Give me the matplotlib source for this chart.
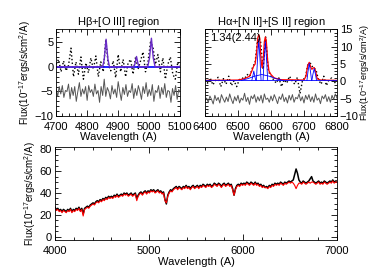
import matplotlib
matplotlib.use("Agg")
import matplotlib.pyplot as plt
from matplotlib.ticker import MultipleLocator
import numpy as np

plt.rcParams['font.family'] = ['Liberation Sans', 'DejaVu Sans']
plt.rcParams['mathtext.fontset'] = 'custom'
plt.rcParams['mathtext.rm'] = 'Liberation Sans'
plt.rcParams['mathtext.it'] = 'Liberation Sans'

# ---- H-beta + [O III] region ----
hb_data = [0.5, 1.5, -1.0, 1.2, -0.8, 0.3, 3.8, -2.0, 1.0, -1.5, 2.0, -2.5, 0.8,
           -1.2, 1.8, -0.5, 2.2, -2.0, 1.0, -1.0, 5.5, 0.5, -0.8, 1.2, -2.2, 2.5,
           -1.0, 1.5, -2.0, 0.8, 1.5, -1.5, 2.0, -0.5, 1.2, 3.0, -1.0, 1.0, 5.0,
           4.0, 0.5, 2.5, -1.0, 1.8, -2.5, 0.5, 2.0, -1.5, -2.5, 1.0, -0.5]
hb_resid = [-4.5, -6.0, -4.0, -5.5, -3.8, -6.2, -4.8, -5.0, -3.5, -6.5, -4.2, -5.8,
            -4.0, -7.0, -5.0, -3.2, -6.0, -4.5, -5.5, -4.0, -6.8, -3.8, -5.2, -4.6,
            -6.0, -3.5, -5.5, -4.8, -7.2, -4.0, -5.8, -2.5, -6.0, -4.2, -5.0, -6.5,
            -3.8, -5.5, -4.5, -6.2, -3.0, -5.0, -6.8, -4.2, -5.6, -3.6, -6.0, -4.8,
            -5.2, -3.4, -6.4, -4.4, -5.8, -3.8, -5.0, -6.6, -4.0, -5.4, -3.2, -6.0,
            -4.6, -5.8, -3.6, -7.0, -4.8, -5.2, -3.8, -6.4, -4.2, -5.6, -3.4, -6.2,
            -4.8, -5.0, -7.2, -4.4, -5.8, -3.8, -6.6, -4.6, -5.2]
hb_fit_x = [4700, 4850, 4855, 4861, 4867, 4872, 4950, 4954, 4959, 4964, 4968,
            4995, 5001, 5007, 5013, 5019, 5100]
hb_fit_y = [0, 0, 1.5, 5.6, 1.5, 0, 0, 0.6, 2.1, 0.6, 0, 0, 1.8, 5.8, 1.8, 0, 0]

# ---- H-alpha + [N II] + [S II] region ----
ha_data = [0.5, -0.5, 1.0, -1.0, 0.3, 1.2, -1.5, 0.8, -0.8, 1.5, -1.2, 0.2, -1.5,
           0.5, 1.0, 0.8, 2.0, 1.5, 4.0, 5.5, 12.5, 12.0, 3.5, 12.8, 3.0, 1.5,
           0.5, -0.5, 1.0, -1.5, 0.5, -0.5, 1.5, 0.2, -0.8, 1.2, -3.5, 0.5, 1.0,
           5.0, 5.2, 3.8, 3.5, 0.5, -0.8, 1.5, -1.2, 0.5, 1.0, -0.5, 0.3]
ha_resid = [-5.5, -4.8, -6.0, -4.2, -5.2, -6.5, -4.0, -5.5, -4.6, -6.2, -3.8, -5.0,
            -6.0, -4.5, -5.8, -3.6, -5.2, -6.4, -4.4, -5.6, -4.0, -6.2, -4.8, -5.4,
            -3.4, -5.8, -4.6, -6.6, -4.2, -5.0, -3.8, -6.0, -4.4, -5.6, -4.0, -6.2,
            -3.6, -5.2, -4.8, -6.0, -4.2, -5.6, -3.8, -5.0, -6.4, -4.4, -5.2, -3.6,
            -5.8, -4.6, -6.2, -4.0, -5.4, -3.8, -6.0, -4.6, -5.0, -3.6, -5.6, -4.4,
            -6.2, -4.0, -5.2, -3.8, -5.8, -4.4, -6.0, -3.6, -5.4, -4.8, -6.4, -4.2,
            -5.0, -3.8, -5.8, -4.4, -6.0, -4.0, -5.2, -3.6, -4.8]
ha_fit_x = [6400, 6500, 6520, 6535, 6542, 6548, 6552, 6556, 6560, 6563, 6566, 6570,
            6573, 6577, 6580, 6583, 6586, 6590, 6594, 6600, 6610, 6630, 6700, 6706,
            6711, 6716, 6721, 6724, 6727, 6731, 6735, 6740, 6750, 6800]
ha_fit_y = [0.3, 0.4, 0.8, 1.5, 3.0, 4.5, 5.0, 8.0, 12.5, 13.5, 12.5, 6.0,
            4.0, 7.0, 11.5, 12.8, 11.5, 6.0, 3.0, 2.0, 1.0, 0.5, 0.4, 1.5,
            4.5, 5.5, 4.0, 3.5, 3.8, 4.0, 3.0, 0.8, 0.4, 0.3]
ha_comp_x = [[6400, 6800],
             [6542, 6545, 6548, 6551, 6554],
             [6556, 6559, 6563, 6567, 6570],
             [6576, 6579, 6583, 6587, 6590],
             [6510, 6530, 6550, 6572, 6595, 6615, 6635],
             [6709, 6712, 6716, 6720, 6723],
             [6724, 6727, 6731, 6735, 6738]]
ha_comp_y = [[0.3, 0.3],
             [0.3, 1.5, 3.0, 1.5, 0.3],
             [0.3, 6.0, 12.0, 6.0, 0.3],
             [0.3, 5.8, 11.5, 5.8, 0.3],
             [0.3, 0.8, 1.5, 2.0, 1.5, 0.8, 0.3],
             [0.3, 2.7, 5.2, 2.7, 0.3],
             [0.3, 2.0, 3.7, 2.0, 0.3]]
ha_label = "1.34(2.44)"

# ---- full spectrum, 4000-7000 A every 15 A ----
full_obs = [27, 25, 26, 24, 25, 23, 25, 24, 23, 25,
            24, 26, 23, 25, 24, 26, 25, 27, 24, 26,
            21, 26, 27, 28, 27, 29, 30, 31, 30, 32,
            33, 32, 34, 33, 35, 34, 36, 35, 37, 36,
            37, 36, 38, 37, 39, 37, 38, 39, 38, 40,
            39, 40, 38, 39, 40, 38, 39, 40, 35, 38,
            40, 41, 39, 41, 42, 40, 42, 41, 43, 42,
            43, 41, 42, 43, 41, 42, 40, 41, 34, 30,
            38, 41, 43, 42, 44, 45, 46, 44, 46, 45,
            44, 46, 45, 47, 45, 46, 44, 46, 47, 45,
            46, 47, 45, 47, 46, 48, 47, 46, 48, 47,
            48, 46, 47, 49, 48, 47, 49, 48, 46, 48,
            49, 47, 48, 49, 47, 48, 44, 38, 44, 47,
            48, 47, 49, 48, 49, 48, 50, 49, 48, 50,
            49, 48, 50, 48, 49, 47, 48, 46, 47, 45,
            46, 45, 47, 46, 48, 47, 49, 48, 49, 48,
            50, 49, 48, 50, 49, 50, 51, 50, 51, 52,
            57, 62, 58, 52, 50, 49, 51, 50, 49, 50,
            51, 53, 55, 51, 50, 49, 50, 51, 49, 50,
            49, 51, 50, 49, 50, 51, 50, 52, 50, 51,
            51]
full_model = [26, 24, 25, 23, 24, 22, 24, 23, 22, 24,
              23, 25, 22, 24, 23, 25, 24, 26, 23, 25,
              19, 25, 26, 27, 26, 28, 29, 30, 29, 31,
              32, 31, 33, 32, 34, 33, 35, 34, 36, 35,
              36, 35, 37, 36, 38, 36, 37, 38, 37, 39,
              38, 39, 37, 38, 39, 37, 38, 39, 33, 37,
              39, 40, 38, 40, 41, 39, 41, 40, 42, 41,
              42, 40, 41, 42, 40, 41, 39, 40, 33, 31,
              37, 40, 42, 41, 43, 44, 45, 43, 45, 44,
              43, 45, 44, 46, 44, 45, 43, 45, 46, 44,
              45, 46, 44, 46, 45, 47, 46, 45, 47, 46,
              47, 45, 46, 48, 47, 46, 48, 47, 45, 47,
              48, 46, 47, 48, 46, 47, 43, 38, 43, 46,
              47, 46, 48, 47, 48, 47, 49, 48, 47, 49,
              48, 47, 49, 47, 48, 46, 47, 45, 46, 45,
              45, 44, 46, 45, 47, 46, 48, 47, 48, 47,
              49, 48, 47, 49, 48, 49, 50, 49, 50, 49,
              47, 44, 47, 49, 49, 48, 50, 49, 48, 49,
              50, 49, 50, 50, 49, 48, 49, 50, 48, 49,
              48, 50, 49, 48, 49, 50, 49, 51, 49, 50,
              50]


def style_axes(ax, xmaj, xmin, ymaj, ymin):
    ax.xaxis.set_major_locator(MultipleLocator(xmaj))
    ax.xaxis.set_minor_locator(MultipleLocator(xmin))
    ax.yaxis.set_major_locator(MultipleLocator(ymaj))
    ax.yaxis.set_minor_locator(MultipleLocator(ymin))
    ax.tick_params(which='both', direction='in', top=True, right=True,
                   labelsize=8, width=0.6)
    ax.tick_params(axis='y', pad=2)
    ax.tick_params(axis='x', pad=4)
    ax.tick_params(which='major', length=4)
    ax.tick_params(which='minor', length=2)
    for s in ax.spines.values():
        s.set_linewidth(0.6)


ylab = r'Flux(10$^{-17}$ergs/s/cm$^{2}$/A)'
fig = plt.figure(figsize=(3.74, 2.67), dpi=100)

# left top panel
ax1 = fig.add_axes([0.150, 0.565, 0.332, 0.325])
hb_x = np.linspace(4700, 5100, len(hb_data))
hb_rx = np.linspace(4700, 5100, len(hb_resid))
ax1.plot(hb_rx, hb_resid, color='#555555', lw=0.7)
ax1.plot(hb_x, hb_data, color='black', ls=':', lw=1.0)
ax1.axhline(0, color='blue', lw=1.2)
ax1.plot(hb_fit_x, hb_fit_y, color='#6a2cc8', lw=1.0)
ax1.set_xlim(4700, 5100)
ax1.set_ylim(-10, 7.6)
style_axes(ax1, 100, 20, 5, 1)
ax1.set_title(r'H$\beta$+[O III] region', fontsize=8, pad=2)
ax1.set_xlabel('Wavelength (A)', fontsize=8, labelpad=0)
ax1.set_ylabel(ylab, fontsize=7, labelpad=1)

# right top panel
ax2 = fig.add_axes([0.548, 0.565, 0.353, 0.325])
ha_x = np.linspace(6400, 6800, len(ha_data))
ha_rx = np.linspace(6400, 6800, len(ha_resid))
ax2.plot(ha_rx, ha_resid, color='#555555', lw=0.7)
ax2.plot(ha_x, ha_data, color='black', ls=':', lw=1.0)
ax2.plot(ha_fit_x, ha_fit_y, color='red', lw=0.9)
for cx, cy in zip(ha_comp_x, ha_comp_y):
    ax2.plot(cx, cy, color='blue', lw=0.6)
ax2.set_xlim(6400, 6800)
ax2.set_ylim(-10, 15)
style_axes(ax2, 100, 20, 5, 1)
ax2.tick_params(labelleft=False, labelright=True)
ax2.yaxis.set_label_position('right')
ax2.set_title(r'H$\alpha$+[N II]+[S II] region', fontsize=8, pad=2)
ax2.set_xlabel('Wavelength (A)', fontsize=8, labelpad=0)
ax2.set_ylabel(ylab, fontsize=6.5, labelpad=0)
ax2.text(0.04, 0.96, ha_label, transform=ax2.transAxes, fontsize=8,
         ha='left', va='top')

# bottom panel
ax3 = fig.add_axes([0.147, 0.101, 0.754, 0.348])
full_x = np.linspace(4000, 7000, len(full_obs))
ax3.plot(full_x, full_obs, color='black', lw=1.1)
ax3.plot(full_x, full_model, color='red', lw=0.8)
ax3.set_xlim(4000, 7000)
ax3.set_ylim(-3, 82)
style_axes(ax3, 1000, 200, 20, 5)
ax3.set_xlabel('Wavelength (A)', fontsize=8, labelpad=1)
ax3.set_ylabel(ylab, fontsize=7, labelpad=1)

fig.savefig('out.png', dpi=100)
